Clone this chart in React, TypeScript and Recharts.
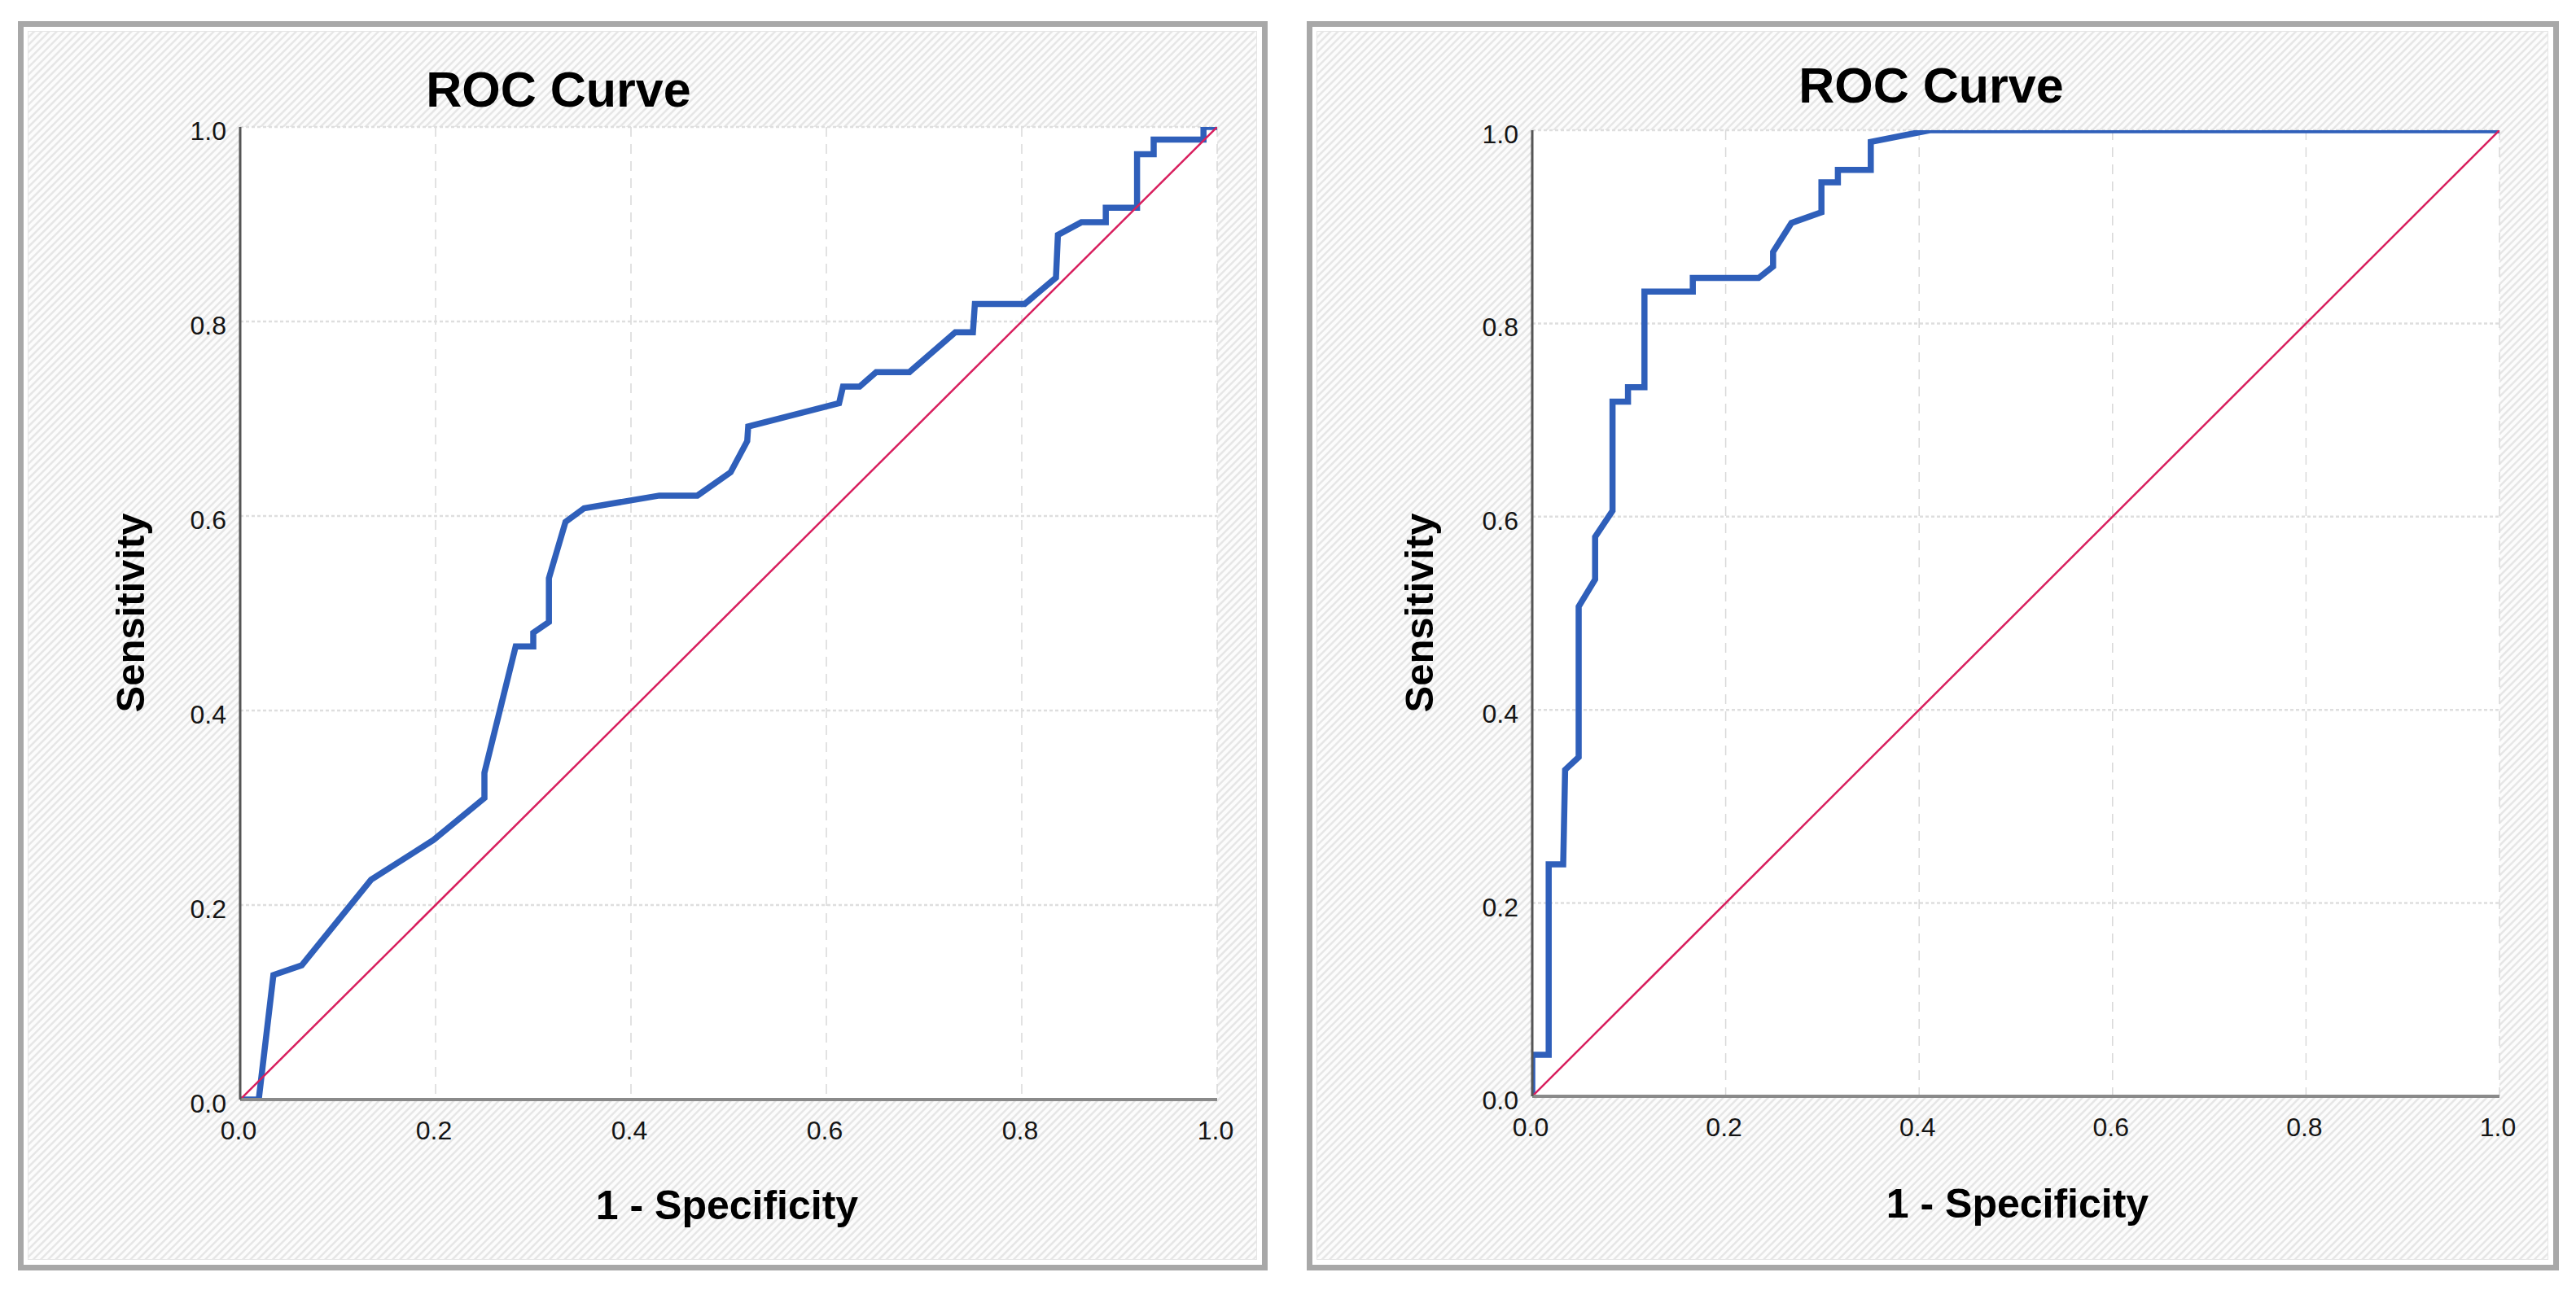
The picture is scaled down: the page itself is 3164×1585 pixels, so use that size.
import React from 'react'
import { LineChart, Line, XAxis, YAxis, CartesianGrid } from 'recharts'

// ROC points (1 - specificity, sensitivity)
const leftFpr = [0, 0.019, 0.034, 0.063, 0.134, 0.198, 0.25, 0.25, 0.282, 0.3, 0.3, 0.316, 0.316, 0.333, 0.352, 0.429, 0.468, 0.502, 0.519, 0.52, 0.613, 0.617, 0.634, 0.651, 0.685, 0.732, 0.75, 0.752, 0.803, 0.835, 0.837, 0.861, 0.886, 0.886, 0.918, 0.918, 0.935, 0.935, 0.986, 0.986, 1]
const leftTpr = [0, 0, 0.128, 0.138, 0.226, 0.267, 0.31, 0.336, 0.466, 0.466, 0.48, 0.491, 0.536, 0.594, 0.608, 0.621, 0.621, 0.645, 0.677, 0.692, 0.716, 0.733, 0.733, 0.748, 0.748, 0.789, 0.789, 0.818, 0.818, 0.845, 0.889, 0.902, 0.902, 0.917, 0.917, 0.972, 0.972, 0.987, 0.987, 1, 1]

const rightFpr = [0, 0, 0.017, 0.017, 0.032, 0.034, 0.048, 0.048, 0.065, 0.065, 0.083, 0.083, 0.099, 0.099, 0.116, 0.116, 0.166, 0.166, 0.234, 0.249, 0.249, 0.268, 0.299, 0.299, 0.316, 0.316, 0.35, 0.35, 0.411, 1]
const rightTpr = [0, 0.043, 0.043, 0.24, 0.24, 0.338, 0.351, 0.507, 0.535, 0.579, 0.606, 0.719, 0.719, 0.734, 0.734, 0.833, 0.833, 0.847, 0.847, 0.859, 0.874, 0.904, 0.915, 0.946, 0.946, 0.959, 0.959, 0.988, 1, 1]

const refFpr = [0, 1]
const refTpr = [0, 1]

const ticks = [0, 0.2, 0.4, 0.6, 0.8, 1]

const toPoints = (xs: number[], ys: number[]) => xs.map((x, i) => ({ x, y: ys[i] }))

const FONT = '"Liberation Sans", Arial, sans-serif'
const BLUE = '#2f5fba'
const RED = '#d81f5e'

const hatch =
  'repeating-linear-gradient(135deg, #fcfcfc 0px, #fcfcfc 3px, #e6e6e6 4px, #e6e6e6 5.5px, #fcfcfc 6.5px)'

function XTick(props: any) {
  const { x, y, payload } = props
  return (
    <text x={x - 2} y={y + 49} textAnchor="middle" fontSize={32} fontFamily={FONT} fill="#151515">
      {Number(payload.value).toFixed(1)}
    </text>
  )
}

function YTick(props: any) {
  const { x, y, payload } = props
  return (
    <text x={x - 17} y={y + 16} textAnchor="end" fontSize={32} fontFamily={FONT} fill="#151515">
      {Number(payload.value).toFixed(1)}
    </text>
  )
}

interface PanelProps {
  left: number
  width: number
  curve: { x: number; y: number }[]
  margin: { top: number; right: number; bottom: number; left: number }
}

function RocPanel({ left, width, curve, margin }: PanelProps) {
  const inner = width - 14
  return (
    <div
      style={{
        position: 'absolute',
        left,
        top: 26,
        width,
        height: 1535,
        boxSizing: 'border-box',
        border: '7px solid #a8a8a8',
        background: '#fff',
      }}
    >
      <div
        style={{
          position: 'absolute',
          left: 5,
          top: 5,
          right: 6,
          bottom: 6,
          border: '1px solid #e6e6e6',
          background: hatch,
        }}
      />
      <div style={{ position: 'absolute', left: 0, top: 0 }}>
        <LineChart width={inner} height={1521} margin={margin}>
          <CartesianGrid
            horizontal={false}
            stroke="#d9d9d9"
            strokeWidth={1.5}
            strokeDasharray="12 9"
            fill="#ffffff"
            fillOpacity={1}
          />
          <CartesianGrid vertical={false} stroke="#dedede" strokeWidth={2.5} strokeDasharray="4 3" />
          <XAxis
            dataKey="x"
            type="number"
            domain={[0, 1]}
            ticks={ticks}
            allowDataOverflow
            height={100}
            tickSize={0}
            tickMargin={0}
            tickLine={false}
            axisLine={{ stroke: '#8a8a8a', strokeWidth: 4 }}
            tick={<XTick />}
          />
          <YAxis
            dataKey="y"
            type="number"
            domain={[0, 1]}
            ticks={ticks}
            allowDataOverflow
            width={100}
            tickSize={0}
            tickMargin={0}
            tickLine={false}
            axisLine={{ stroke: '#555555', strokeWidth: 3 }}
            tick={<YTick />}
          />
          <Line
            data={curve}
            dataKey="y"
            type="linear"
            stroke={BLUE}
            strokeWidth={7.5}
            strokeLinejoin="miter"
            dot={false}
            activeDot={false}
            isAnimationActive={false}
          />
          <Line
            data={toPoints(refFpr, refTpr)}
            dataKey="y"
            type="linear"
            stroke={RED}
            strokeWidth={2.5}
            dot={false}
            activeDot={false}
            isAnimationActive={false}
          />
        </LineChart>
      </div>
    </div>
  )
}

const bold = { fontFamily: FONT, fontWeight: 700, fill: '#000' } as const

export default function App() {
  return (
    <div style={{ position: 'absolute', left: 0, top: 0, width: 3164, height: 1585, background: '#fff' }}>
      <RocPanel
        left={22}
        width={1535}
        curve={toPoints(leftFpr, leftTpr)}
        margin={{ top: 123, right: 55, bottom: 103, left: 166 }}
      />
      <RocPanel
        left={1605}
        width={1538}
        curve={toPoints(rightFpr, rightTpr)}
        margin={{ top: 127, right: 66, bottom: 107, left: 170 }}
      />
      <svg
        width={3164}
        height={1585}
        style={{ position: 'absolute', left: 0, top: 0, pointerEvents: 'none' }}
      >
        <text x={686} y={131} textAnchor="middle" fontSize={61} {...bold}>ROC Curve</text>
        <text x={2372} y={126} textAnchor="middle" fontSize={61} {...bold}>ROC Curve</text>
        <text transform="translate(177 753) rotate(-90)" textAnchor="middle" fontSize={49} {...bold}>Sensitivity</text>
        <text transform="translate(1760 753) rotate(-90)" textAnchor="middle" fontSize={49} {...bold}>Sensitivity</text>
        <text x={893} y={1498} textAnchor="middle" fontSize={50} {...bold}>1 - Specificity</text>
        <text x={2478} y={1496} textAnchor="middle" fontSize={50} {...bold}>1 - Specificity</text>
      </svg>
    </div>
  )
}
